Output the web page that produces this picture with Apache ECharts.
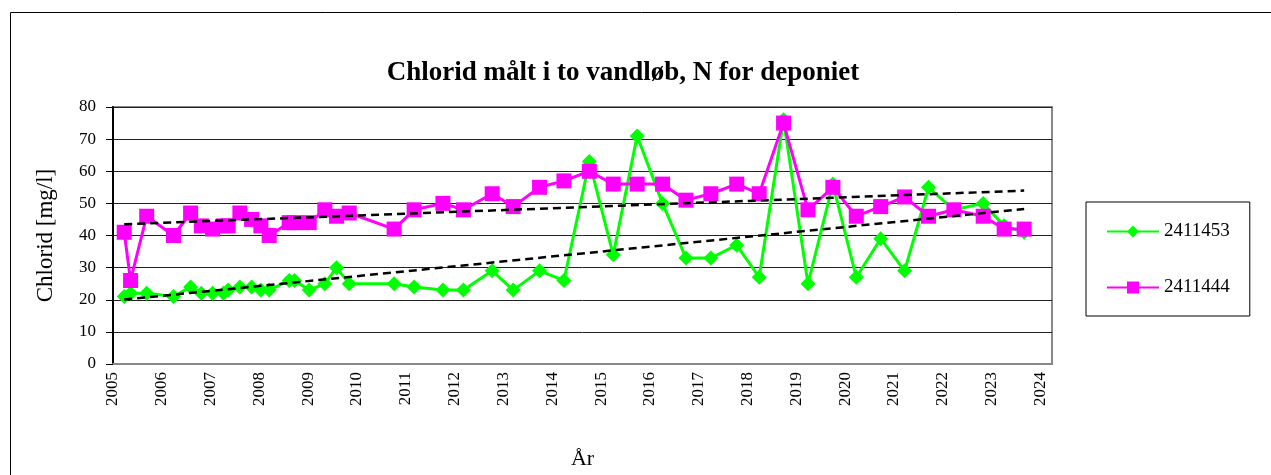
<!DOCTYPE html>
<html><head><meta charset="utf-8">
<script src="https://cdn.jsdelivr.net/npm/echarts@6/dist/echarts.min.js"></script>
<style>html,body{margin:0;padding:0;background:#fff}#c{width:1271px;height:475px}</style>
</head><body><div id="c"></div>
<script>
// Sampling dates (decimal years)
const sampleDates = [2005.23,2005.36,2005.69,2006.24,2006.59,2006.81,2007.04,2007.26,2007.36,2007.60,2007.84,2008.03,2008.20,2008.61,2008.72,2009.02,2009.34,2009.58,2009.84,2010.76,2011.17,2011.76,2012.18,2012.77,2013.20,2013.74,2014.24,2014.76,2015.25,2015.74,2016.26,2016.74,2017.25,2017.78,2018.24,2018.74,2019.24,2019.75,2020.23,2020.73,2021.22,2021.71,2022.23,2022.83,2023.26,2023.67];
const values2411453 = [21,22,22,21,24,22,22,22,23,24,24,23,23,26,26,23,25,30,25,25,24,23,23,29,23,29,26,63,34,71,50,33,33,37,27,76,25,56,27,39,29,55,48,50,43,41];
const values2411444 = [41,26,46,40,47,43,42,43,43,47,45,43,40,44,44,44,48,46,47,42,48,50,48,53,49,55,57,60,56,56,56,51,53,56,53,75,48,55,46,49,52,46,48,46,42,42];
const seriesNames = ['2411453','2411444'];
const yMin = 0, yMax = 80, yStep = 10;
const xMin = 2005, xMax = 2024.24;

function pairs(xs, ys){ return xs.map((x,i)=>[x, ys[i]]); }
function trend(xs, ys){
  const n = xs.length;
  let sx=0, sy=0, sxx=0, sxy=0;
  for(let i=0;i<n;i++){ sx+=xs[i]; sy+=ys[i]; sxx+=xs[i]*xs[i]; sxy+=xs[i]*ys[i]; }
  const b = (n*sxy - sx*sy)/(n*sxx - sx*sx);
  const a = (sy - b*sx)/n;
  const x0 = Math.min(...xs), x1 = Math.max(...xs);
  return [[x0, a+b*x0],[x1, a+b*x1]];
}

const serif = 'Liberation Serif, Times New Roman, serif';
const chart = echarts.init(document.getElementById('c'), null, {renderer:'canvas'});
chart.setOption({
  backgroundColor:'#fff',
  animation:false,
  title:{
    text:'Chlorid målt i to vandløb, N for deponiet',
    left:618, top:55, textAlign:'center',
    textStyle:{fontFamily:serif, fontSize:27, fontWeight:'bold', color:'#000'}
  },
  graphic:[{type:'rect', shape:{x:10.5,y:12.5,width:1300,height:500}, style:{fill:'none', stroke:'#000', lineWidth:1}, silent:true, z:-1}],
  grid:{left:113, top:107, right:219, bottom:108, show:true, borderColor:'#888', borderWidth:2, backgroundColor:'#fff'},
  legend:{
    data:seriesNames, orient:'vertical', left:1086, top:202,
    padding:[20,20,19,20], itemGap:37, itemWidth:52, itemHeight:15,
    borderColor:'#000', borderWidth:1, backgroundColor:'#fff',
    textStyle:{fontFamily:serif, fontSize:19, color:'#000'}
  },
  xAxis:{
    type:'value', min:xMin, max:xMax, interval:1,
    name:'År', nameLocation:'middle', nameGap:84,
    nameTextStyle:{fontFamily:serif, fontSize:22, color:'#000'},
    axisLine:{show:true, onZero:false, lineStyle:{color:'#888', width:2}},
    axisTick:{show:false},
    splitLine:{show:false},
    axisLabel:{rotate:90, margin:8, fontFamily:serif, fontSize:17, color:'#000',
      formatter:v=> Math.abs(v-Math.round(v))<1e-6 ? String(Math.round(v)) : ''}
  },
  yAxis:{
    type:'value', min:yMin, max:yMax, interval:yStep,
    name:'Chlorid [mg/l]', nameLocation:'middle', nameGap:56,
    nameTextStyle:{fontFamily:serif, fontSize:23, color:'#000'},
    axisLine:{show:true, lineStyle:{color:'#000', width:2}},
    axisTick:{show:true, inside:false, length:7, lineStyle:{color:'#000', width:1}},
    splitLine:{show:true, lineStyle:{color:'#222', width:1}},
    axisLabel:{margin:17, fontFamily:serif, fontSize:17, color:'#000'}
  },
  series:[
    {name:seriesNames[0], type:'line', data:pairs(sampleDates, values2411453),
     symbol:'diamond', symbolSize:15, showAllSymbol:true,
     lineStyle:{color:'#00ff00', width:3}, itemStyle:{color:'#00ff00', borderWidth:0}, z:2},
    {name:seriesNames[1], type:'line', data:pairs(sampleDates, values2411444),
     symbol:'rect', symbolSize:15, showAllSymbol:true,
     lineStyle:{color:'#ff00ff', width:3}, itemStyle:{color:'#ff00ff', borderWidth:0}, z:3},
    {name:'trend1', type:'line', data:trend(sampleDates, values2411453), symbol:'none',
     lineStyle:{color:'#000', width:2.5, type:[8,5]}, z:4, silent:true},
    {name:'trend2', type:'line', data:trend(sampleDates, values2411444), symbol:'none',
     lineStyle:{color:'#000', width:2.5, type:[8,5]}, z:4, silent:true}
  ]
});
</script>
</body></html>
